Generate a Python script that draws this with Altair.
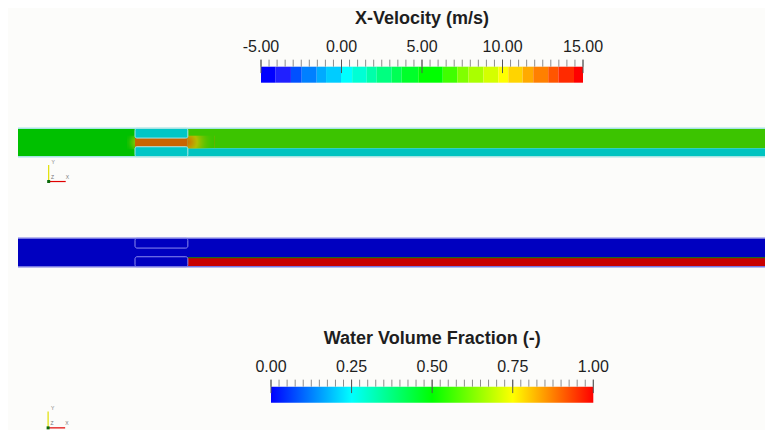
import altair as alt
import numpy as np
import pandas as pd

# ---------------------------------------------------------------- data
BG = "#fcfcfa"
FONT = "Liberation Sans"
TEXT_COLOR = "#1e1e1e"

# colour bar 1 : x-velocity (banded lookup table)
VEL_TITLE = "X-Velocity (m/s)"
VEL_RANGE = [-5.0, 15.0]
VEL_LABELS = [-5.0, 0.0, 5.0, 10.0, 15.0]
VEL_MINOR_STEP = 0.5
VEL_BAND_EDGES = [-5.0, -4.09, -3.14, -2.47, -1.54, -0.96, -0.03, 0.66, 1.57, 2.19,
                  3.12, 3.74, 4.77, 6.29, 7.19, 7.88, 8.81, 9.74, 10.36, 11.25,
                  11.91, 12.84, 13.47, 14.44, 15.0]
VEL_BAND_COLORS = ["#0000ff", "#2020ff", "#0050ff", "#0080ff", "#00aaff", "#00ccff",
                   "#00ffff", "#00ffd5", "#00ffaa", "#00ff80", "#00ff55", "#00ff2a",
                   "#00ff00", "#40ff00", "#80ff00", "#aaff00", "#d4ff00", "#ffff00",
                   "#ffd400", "#ffaa00", "#ff8000", "#ff5500", "#ff2a00", "#ff0000"]

# colour bar 2 : water volume fraction (smooth lookup table)
VOF_TITLE = "Water Volume Fraction (-)"
VOF_RANGE = [0.0, 1.0]
VOF_LABELS = [0.0, 0.25, 0.5, 0.75, 1.0]
VOF_MINOR_STEP = 0.025
VOF_STOP_OFFSETS = [0.0, 0.25, 0.5, 0.75, 1.0]
VOF_STOP_COLORS = ["#0000ff", "#00ffff", "#00ff00", "#ffff00", "#ff0000"]

# channel geometry (mm)
CH_X = [0.0, 140.0]
CH_Y = [0.0, 5.0]
INSERT_X = [20.6, 29.9]
WALL_LOW = [0.0, 1.75]
WALL_HIGH = [3.28, 5.0]

# velocity field regions
VEL_REG_X0 = [0.0, 20.6, 20.6, 20.6, 29.9, 29.9]
VEL_REG_X1 = [20.6, 29.9, 29.9, 29.9, 140.0, 140.0]
VEL_REG_Y0 = [0.0, 0.0, 1.75, 3.28, 1.5, 0.0]
VEL_REG_Y1 = [5.0, 1.75, 3.28, 5.0, 5.0, 1.5]
VEL_REG_COLORS = ["#00c000", "#00c6c6", "#c86400", "#00c6c6", "#3cc400", "#00c4c0"]

# volume fraction field regions
VOF_REG_X0 = [0.0, 29.9]
VOF_REG_X1 = [140.0, 140.0]
VOF_REG_Y0 = [0.0, 0.0]
VOF_REG_Y1 = [5.0, 1.6]
VOF_REG_COLORS = ["#0000c0", "#c80000"]
VOF_INTERFACE_Y = 1.6

# ---------------------------------------------------------------- layout
W = 757
PX_PER_MM = 5.68
CH_LEFT_PX = 10.0          # channel start inside panel
CH_TOP_PX = 20.3           # channel top inside its panel
UNIT = 16.0                # colour-bar vertical unit (px)

mm_x0 = -CH_LEFT_PX / PX_PER_MM
mm_scale_x = alt.Scale(domain=[mm_x0, mm_x0 + W / PX_PER_MM], nice=False, zero=False)


def mm_scale_y(h):
    top = CH_Y[1] + CH_TOP_PX / PX_PER_MM
    return alt.Scale(domain=[top - h / PX_PER_MM, top], nice=False, zero=False)


def rects(x0, x1, y0, y1, colors):
    return pd.DataFrame({"x0": x0, "x1": x1, "y0": y0, "y1": y1, "c": colors})


def region_layer(df, xs, ys):
    return alt.Chart(df).mark_rect(clip=True).encode(
        x=alt.X("x0:Q", scale=xs, axis=None), x2="x1:Q",
        y=alt.Y("y0:Q", scale=ys, axis=None), y2="y1:Q",
        color=alt.Color("c:N", scale=None))


def hline(df, xs, ys, color, w):
    return alt.Chart(df).mark_rule(color=color, strokeWidth=w, clip=True).encode(
        x=alt.X("x0:Q", scale=xs, axis=None), x2="x1:Q",
        y=alt.Y("y:Q", scale=ys, axis=None))


def triad(xs, ys, ox, oy):
    arm = pd.DataFrame({"x0": [ox], "x1": [ox + 3.0], "y0": [oy], "y1": [oy + 2.9]})
    vert = alt.Chart(arm).mark_rule(color="#e0e000", strokeWidth=1.2).encode(
        x=alt.X("x0:Q", scale=xs, axis=None), y=alt.Y("y0:Q", scale=ys, axis=None), y2="y1:Q")
    horiz = alt.Chart(arm).mark_rule(color="#e00000", strokeWidth=1.2).encode(
        x=alt.X("x0:Q", scale=xs, axis=None), x2="x1:Q", y=alt.Y("y0:Q", scale=ys, axis=None))
    dot = alt.Chart(arm).mark_square(color="#0a6a0a", size=9, opacity=1).encode(
        x=alt.X("x0:Q", scale=xs, axis=None), y=alt.Y("y0:Q", scale=ys, axis=None))
    lab = pd.DataFrame({"x": [ox + 0.5, ox + 3.0, ox + 0.4], "y": [oy + 2.9, oy + 0.3, oy + 0.3],
                        "t": ["Y", "X", "Z"]})
    labs = alt.Chart(lab).mark_text(fontSize=5, color="#777", align="left", baseline="bottom").encode(
        x=alt.X("x:Q", scale=xs, axis=None), y=alt.Y("y:Q", scale=ys, axis=None), text="t:N")
    return [vert, horiz, dot, labs]


def colorbar_layers(rng, labels, step, title, bar_l, bar_r, h, bar_bottom, bar_fill_layer):
    vmin, vmax = rng
    ppu = (bar_r - bar_l) / (vmax - vmin)
    d0 = vmin - bar_l / ppu
    xs = alt.Scale(domain=[d0, d0 + W / ppu], nice=False, zero=False)
    ys = alt.Scale(domain=[-(h - bar_bottom) / UNIT, bar_bottom / UNIT], nice=False, zero=False)
    bar = bar_fill_layer(xs, ys)
    minor = pd.DataFrame({"v": np.round(np.arange(vmin, vmax + step / 2, step), 4)})
    minor_ticks = alt.Chart(minor).mark_rule(color="#8c8c8c", strokeWidth=1).encode(
        x=alt.X("v:Q", scale=xs, axis=None),
        y=alt.Y("a:Q", scale=ys, axis=None), y2="b:Q").transform_calculate(a="1", b="1.44")
    major = pd.DataFrame({"v": labels, "t": [f"{v:.2f}" for v in labels]})
    major_ticks = alt.Chart(major).mark_rule(color="#555555", strokeWidth=1).encode(
        x=alt.X("v:Q", scale=xs, axis=None),
        y=alt.Y("a:Q", scale=ys, axis=None), y2="b:Q").transform_calculate(a="0.6", b="1.44")
    label_text = alt.Chart(major).mark_text(font=FONT, fontSize=16, color=TEXT_COLOR,
                                            align="center", baseline="alphabetic").encode(
        x=alt.X("v:Q", scale=xs, axis=None),
        y=alt.Y("a:Q", scale=ys, axis=None), text="t:N").transform_calculate(a="1.9")
    ttl = pd.DataFrame({"v": [(vmin + vmax) / 2], "t": [title]})
    title_text = alt.Chart(ttl).mark_text(font=FONT, fontSize=18, fontWeight="bold", color=TEXT_COLOR,
                                          align="center", baseline="alphabetic").encode(
        x=alt.X("v:Q", scale=xs, axis=None),
        y=alt.Y("a:Q", scale=ys, axis=None), text="t:N").transform_calculate(a="3.67")
    return [bar, minor_ticks, major_ticks, label_text, title_text]


# ---------------------------------------------------------------- panel 1: velocity colour bar
def vel_bar(xs, ys):
    df = pd.DataFrame({"x0": VEL_BAND_EDGES[:-1], "x1": VEL_BAND_EDGES[1:],
                       "y0": 0.0, "y1": 1.0, "c": VEL_BAND_COLORS})
    return region_layer(df, xs, ys)


P1_H = 100
p1 = alt.layer(*colorbar_layers(VEL_RANGE, VEL_LABELS, VEL_MINOR_STEP, VEL_TITLE,
                                253.0, 575.0, P1_H, 74.7, vel_bar)
               ).properties(width=W, height=P1_H)

# ---------------------------------------------------------------- panel 2: velocity field
P2_H = 110
ys2 = mm_scale_y(P2_H)
vel_df = rects(VEL_REG_X0, VEL_REG_X1, VEL_REG_Y0, VEL_REG_Y1, VEL_REG_COLORS)
edges = pd.DataFrame({"x0": [CH_X[0]] * 2, "x1": [CH_X[1]] * 2, "y": CH_Y})
walls = pd.DataFrame({"x0": [INSERT_X[0]] * 2, "x1": [INSERT_X[1]] * 2,
                      "y0": [WALL_LOW[0], WALL_HIGH[0]], "y1": [WALL_LOW[1], WALL_HIGH[1]]})


def wall_outline(color, ys):
    return alt.Chart(walls).mark_rect(fillOpacity=0, stroke=color, strokeWidth=1, cornerRadius=2).encode(
        x=alt.X("x0:Q", scale=mm_scale_x, axis=None), x2="x1:Q",
        y=alt.Y("y0:Q", scale=ys, axis=None), y2="y1:Q")


blob_l = pd.DataFrame({"x0": [19.2], "x1": [INSERT_X[0]], "y0": [1.3], "y1": [3.7]})
blob_r = pd.DataFrame({"x0": [INSERT_X[1]], "x1": [34.6], "y0": [1.45], "y1": [3.7]})


def blob(df, grad):
    return alt.Chart(df).mark_rect(color=grad).encode(
        x=alt.X("x0:Q", scale=mm_scale_x, axis=None), x2="x1:Q",
        y=alt.Y("y0:Q", scale=ys2, axis=None), y2="y1:Q")


grad_l = alt.RadialGradient(gradient="radial", x1=1, y1=0.5, r1=0, x2=1, y2=0.5, r2=1,
                            stops=[alt.GradientStop(offset=0, color="#b8c800"),
                                   alt.GradientStop(offset=0.5, color="rgba(110,196,0,0.6)"),
                                   alt.GradientStop(offset=1, color="rgba(0,192,0,0)")])
grad_r = alt.RadialGradient(gradient="radial", x1=0, y1=0.5, r1=0, x2=0, y2=0.5, r2=1,
                            stops=[alt.GradientStop(offset=0, color="#d07000"),
                                   alt.GradientStop(offset=0.35, color="#b0c000"),
                                   alt.GradientStop(offset=1, color="rgba(60,196,0,0)")])

p2 = alt.layer(
    region_layer(vel_df, mm_scale_x, ys2),
    blob(blob_l, grad_l),
    blob(blob_r, grad_r),
    wall_outline("#a6e6e6", ys2),
    hline(edges, mm_scale_x, ys2, "#a6e4e4", 1.6),
    *triad(mm_scale_x, ys2, 5.4, -4.37),
).properties(width=W, height=P2_H)

# ---------------------------------------------------------------- panel 3: volume fraction field
P3_H = 92
ys3 = mm_scale_y(P3_H)
vof_df = rects(VOF_REG_X0, VOF_REG_X1, VOF_REG_Y0, VOF_REG_Y1, VOF_REG_COLORS)
iface = pd.DataFrame({"x0": [INSERT_X[1]], "x1": [CH_X[1]], "y": [VOF_INTERFACE_Y]})
p3 = alt.layer(
    region_layer(vof_df, mm_scale_x, ys3),
    hline(iface, mm_scale_x, ys3, "#1f6a1f", 1.2),
    wall_outline("#8c8cee", ys3),
    hline(edges, mm_scale_x, ys3, "#7676e2", 1.6),
).properties(width=W, height=P3_H)

# ---------------------------------------------------------------- panel 4: volume fraction colour bar
P4_H = 119


def vof_bar(xs, ys):
    grad = alt.LinearGradient(gradient="linear", x1=0, y1=0, x2=1, y2=0,
                              stops=[alt.GradientStop(offset=o, color=c)
                                     for o, c in zip(VOF_STOP_OFFSETS, VOF_STOP_COLORS)])
    df = pd.DataFrame({"x0": [VOF_RANGE[0]], "x1": [VOF_RANGE[1]], "y0": [0.0], "y1": [1.0]})
    return alt.Chart(df).mark_rect(color=grad).encode(
        x=alt.X("x0:Q", scale=xs, axis=None), x2="x1:Q",
        y=alt.Y("y0:Q", scale=ys, axis=None), y2="y1:Q")


ys4_triad = alt.Scale(domain=[0, P4_H / PX_PER_MM], nice=False, zero=False)
p4 = alt.layer(
    *colorbar_layers(VOF_RANGE, VOF_LABELS, VOF_MINOR_STEP, VOF_TITLE,
                     263.0, 585.3, P4_H, 92.7, vof_bar),
    *triad(mm_scale_x, ys4_triad, 5.3, 0.2),
).resolve_scale(x="independent", y="independent").properties(width=W, height=P4_H)

chart = alt.vconcat(p1, p2, p3, p4, spacing=0).properties(
    background=BG, padding=0
).configure_view(stroke=None).configure_concat(spacing=0)

chart.save("out.html", embed_options={"renderer": "svg", "actions": False})
